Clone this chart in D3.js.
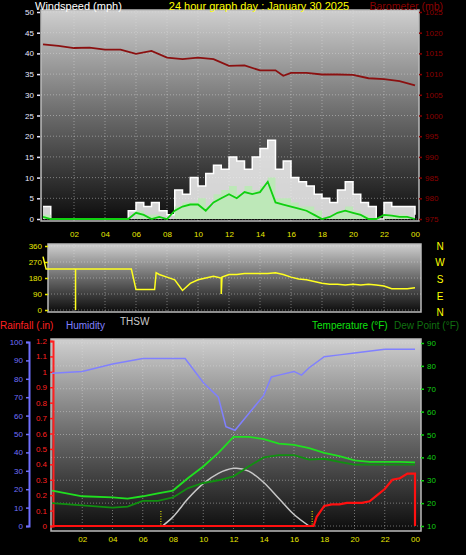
<!DOCTYPE html><html><head><meta charset="utf-8">
<script src="https://cdn.jsdelivr.net/npm/d3@7"></script>
<style>body{margin:0;background:#000}svg{display:block}text{font-family:"Liberation Sans",Arial,sans-serif}</style></head><body>
<script>
// ---- data ----
const hourTicks=[2,4,6,8,10,12,14,16,18,20,22,24];
const hourLabels=["02","04","06","08","10","12","14","16","18","20","22","00"];
const baroT=[0,1,2,3,4,5,6,7,8,9,10,11,12,13,14,15,15.5,16,17,18,19,20,21,22,23,24];
const baroV=[1017.2,1016.8,1016.3,1016.4,1015.9,1015.9,1014.9,1015.6,1014,1013.6,1014,1013.6,1012,1012.1,1010.9,1010.9,1009.6,1010.3,1010.3,1009.9,1009.9,1009.8,1009,1008.8,1008.3,1007.3];
const windT=[0,0.5,1,1.5,2,2.5,3,3.5,4,4.5,5,5.5,6,6.5,7,7.5,8,8.5,9,9.5,10,10.5,11,11.5,12,12.5,13,13.5,14,14.5,15,15.5,16,16.5,17,17.5,18,18.5,19,19.5,20,20.5,21,21.5,22,22.5,23,23.5,24];
const gustV=[3,0,0,0,0,0,0,0,0,0,0,2,4,3,4,2,1,7,6,10,8,11,13,12,15,14,12,15,17,19,12,14,10,9,8,6,5,4,7,9,6,4,3,0,4,3,3,3,1];
const speedV=[1,0,0,0,0,0,0,0,0,0,0,0,2,1,1,0,0,3,4,4,5,3,6,7,8,6,8,7,8,10,5,5,4,3,3,2,0,1,2,3,2,1,0,0,1,1,1,0,0];
const avgV=[0.5,0,0,0,0,0,0,0,0,0,0,0,1.5,1,0,0.5,0,2,3,3.5,3.5,2,4,5,6,5,6.5,6,6.5,9,4,3.5,3,2.5,2,1,0,0.5,1.5,2,1.5,1,0,0,1,0.8,0.5,0.5,0];
const dirT=[0,0.2,2.1,2.1,2.1,5.7,6.0,7.2,7.3,7.5,8,8.5,9,9.5,10,10.5,11,11.5,11.5,11.55,12,12.5,13,13.5,14,14.5,15,15.5,16,16.5,17,17.5,18,18.5,19,19.5,20,20.5,21,21.5,22,22.5,23,23.5,24];
const dirV=[300,230,230,0,230,230,115,115,210,200,185,170,110,150,170,180,190,180,90,185,200,200,205,205,205,205,210,200,185,175,170,160,150,145,145,140,145,140,145,140,135,120,120,120,125];
const humT=[0,2,4,6,8,8.8,10,11,11.5,12.1,13,14,14.5,15,16,16.5,17,18,19,20,22,24];
const humV=[83,84,88,91,91,91,78,70,54,52,61,71,81,82,84,82,86,92,93,94,96,96];
const tT=[0,2,4,5,6,7,8,9,10,11,12,13,14,15,16,17,18,19,20,21,22,23,24];
const tempV=[25.5,23,22.5,22,23,24.3,25.5,31,36,42,49,49,48,46,45.5,44,42,40.5,38.7,38,38,38,37.8];
const dewV=[20,19,18,18.5,21,21,22.5,26.6,28.8,30,31.7,36,40,41,41,39,39.4,38,36.8,36.8,36.8,36.8,36.8];
const rainT=[0,17.3,17.5,18,18.5,19,19.5,20,20.5,21,21.5,22,22.5,23,23.5,24,24];
const rainV=[0,0,0.06,0.13,0.14,0.14,0.15,0.15,0.15,0.16,0.2,0.24,0.3,0.31,0.34,0.34,0];
const thswT=[7.3,8,9,10,11,12,12.2,13,14,15,16,17];
const thswV=[10,14,22,28.5,33,35.2,35.3,34,29,22,15,10];
const sunTimes=[7.2,17.2];

const W=466,H=555;
const svg=d3.select("body").append("svg").attr("width",W).attr("height",H);
const defs=svg.append("defs");
const g=defs.append("linearGradient").attr("id","bg").attr("x1",0).attr("x2",0).attr("y1",0).attr("y2",1);
g.append("stop").attr("offset","0%").attr("stop-color","#cfcfcf");
g.append("stop").attr("offset","50%").attr("stop-color","#6a6a6a");
g.append("stop").attr("offset","100%").attr("stop-color","#0c0c0c");

function panel(x0,x1,y0,y1,x,ygrid){
  svg.append("rect").attr("x",x0).attr("y",y0).attr("width",x1-x0).attr("height",y1-y0).attr("fill","url(#bg)").attr("stroke","#bbb").attr("stroke-width",1.5);
  const gg=svg.append("g").attr("stroke","#ddd").attr("stroke-opacity",0.45).attr("stroke-dasharray","1,2");
  for(let h=2;h<24;h+=2) gg.append("line").attr("x1",x(h)).attr("x2",x(h)).attr("y1",y0).attr("y2",y1);
  ygrid.forEach(v=>gg.append("line").attr("x1",x0).attr("x2",x1).attr("y1",v).attr("y2",v));
}
function text(x,y,s,c,size,anchor){svg.append("text").attr("x",x).attr("y",y).attr("fill",c).attr("font-size",size).attr("text-anchor",anchor||"start").text(s);}
function vaxis(x,scale,ticks,color,side,fmt,minor){
  const a=(side==="left"?d3.axisLeft(scale):d3.axisRight(scale)).tickValues(ticks).tickFormat(fmt||(d=>d)).tickSize(3).tickPadding(3);
  const ax=svg.append("g").attr("transform",`translate(${x},0)`).call(a);
  ax.selectAll("text").attr("fill",color).attr("font-size",8);
  ax.selectAll("line").attr("stroke",color).attr("stroke-width",1.5);
  ax.select(".domain").attr("stroke",color).attr("stroke-width",minor?2:0);
  return ax;
}
function haxis(y,scale){
  const ax=svg.append("g").attr("transform",`translate(0,${y})`).call(d3.axisBottom(scale).tickValues(hourTicks).tickFormat((d,i)=>hourLabels[i]).tickSize(0).tickPadding(0));
  ax.select(".domain").remove();
  ax.selectAll("text").attr("fill","#e8e800").attr("font-size",8);
}

// ---- Panel 1 ----
const x1=d3.scaleLinear().domain([0,24]).range([43,415]);
const yW=d3.scaleLinear().domain([0,50]).range([219,12]);
const yB=d3.scaleLinear().domain([975,1025]).range([219,12]);
panel(41,419,10,221,x1,d3.range(0,51,5).map(yW));
text(35,10,"Windspeed (mph)","#fff",11);
text(259,10,"24 hour graph day : January 30 2025","#ffff00",11,"middle");
text(443,10,"Barometer (mb)","#8b0000",10.5,"end");
vaxis(40,yW,d3.range(0,51,5),"#e8e8ff","left");
vaxis(419,yB,d3.range(975,1026,5),"#8b0000","right");
const pts=d3.range(windT.length);
svg.append("path").attr("d",d3.area().curve(d3.curveStepAfter).x(i=>x1(windT[i])).y0(yW(0)).y1(i=>yW(gustV[i]))(pts)).attr("fill","#f4f4f4").attr("fill-opacity",0.85);
svg.append("path").attr("d",d3.line().curve(d3.curveStepAfter).x(i=>x1(windT[i])).y(i=>yW(gustV[i]))(pts)).attr("fill","none").attr("stroke","#fff").attr("stroke-width",1.5);
svg.append("path").attr("d",d3.area().curve(d3.curveStepAfter).x(i=>x1(windT[i])).y0(yW(0)).y1(i=>yW(speedV[i]))(pts)).attr("fill","#bde8b8");
svg.append("path").attr("d",d3.line().x(i=>x1(windT[i])).y(i=>yW(avgV[i]))(pts)).attr("fill","none").attr("stroke","#10d010").attr("stroke-width",1.8);
svg.append("path").attr("d",d3.line().x((d,i)=>x1(baroT[i])).y(d=>yB(d))(baroV)).attr("fill","none").attr("stroke","#8b1010").attr("stroke-width",1.8);
haxis(231,x1);

// ---- Panel 2 ----
const yD=d3.scaleLinear().domain([0,360]).range([310,246]);
panel(48,421,244,312,x1,[0,90,180,270,360].map(yD));
vaxis(48,yD,[0,90,180,270,360],"#e8e800","left");
svg.append("path").attr("d",d3.line().x((d,i)=>x1(dirT[i])).y(d=>yD(d))(dirV)).attr("fill","none").attr("stroke","#ffff20").attr("stroke-width",1.5);
["N","W","S","E","N"].forEach((s,i)=>text(440,[250,266,283,300,316][i],s,"#ffff00",10,"middle"));
text(120,325,"THSW","#c8c8c8",10);
text(0,329,"Rainfall (.in)","#ff2020",10);
text(66,329,"Humidity","#8080ff",10);
text(312,329,"Temperature (°F)","#10e010",10);
text(394,329,"Dew Point (°F)","#107010",10);

// ---- Panel 3 ----
const x3=d3.scaleLinear().domain([0,24]).range([52,415]);
const yH=d3.scaleLinear().domain([0,100]).range([526,342]);
const yR=d3.scaleLinear().domain([0,1.2]).range([526,341]);
const yT=d3.scaleLinear().domain([10,90]).range([526,343]);
panel(51,421,339,531,x3,d3.range(10,91,10).map(yT));
vaxis(29,yH,d3.range(0,101,10),"#7070ff","left",null,true);
vaxis(53,yR,d3.range(0,1.21,0.1).map(v=>+v.toFixed(1)),"#ff2020","left",d=>String(d),true);
vaxis(421,yT,d3.range(10,91,10),"#10d010","right");
sunTimes.forEach(t=>svg.append("line").attr("x1",x3(t)).attr("x2",x3(t)).attr("y1",511).attr("y2",527).attr("stroke","#ffff00").attr("stroke-dasharray","1,1.5"));
svg.append("path").attr("d",d3.line().curve(d3.curveMonotoneX).x((d,i)=>x3(thswT[i])).y(d=>yT(d))(thswV)).attr("fill","none").attr("stroke","#c8c8c8").attr("stroke-width",1.5);
svg.append("path").attr("d",d3.line().x((d,i)=>x3(tT[i])).y(d=>yT(d))(dewV)).attr("fill","none").attr("stroke","#109010").attr("stroke-width",1.8);
svg.append("path").attr("d",d3.line().x((d,i)=>x3(tT[i])).y(d=>yT(d))(tempV)).attr("fill","none").attr("stroke","#20e020").attr("stroke-width",1.8);
svg.append("path").attr("d",d3.line().x((d,i)=>x3(humT[i])).y(d=>yH(d))(humV)).attr("fill","none").attr("stroke","#8080ff").attr("stroke-width",1.5);
svg.append("path").attr("d",d3.line().x((d,i)=>x3(rainT[i])).y(d=>yR(d))(rainV)).attr("fill","none").attr("stroke","#ff1010").attr("stroke-width",2.2);
haxis(536,x3);
</script></body></html>
